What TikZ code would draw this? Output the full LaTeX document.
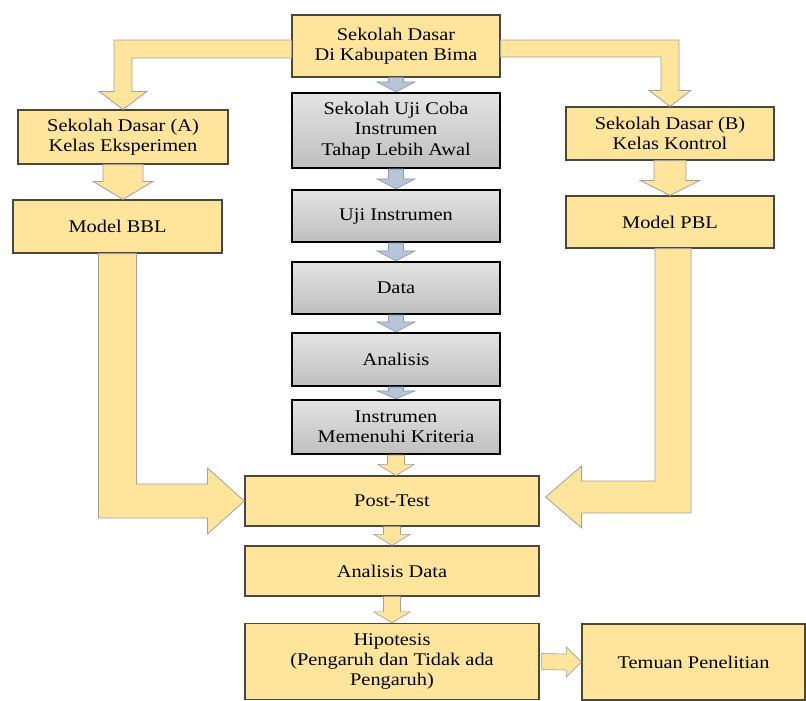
\documentclass[tikz,border=0pt]{standalone}
\usepackage{fontspec}
\setmainfont{Liberation Serif}[FakeStretch=1.14]
\usetikzlibrary{calc}
\definecolor{boxyellow}{HTML}{FFE59C}
\definecolor{boxedge}{HTML}{4A4838}
\definecolor{arrowedge}{HTML}{A0A0A0}
\definecolor{smallblue}{HTML}{B8C4D8}
\definecolor{smalledge}{HTML}{8A9AB4}
\newcommand{\blockdown}[6]{
  % block arrow pointing down from node #2 to node #3
  % parameter 1: style
  % parameter 4: half width of shaft, 5: half width of head, 6: head length
  \filldraw[#1] ($(#2.south)+(-#4,0)$) -- ($(#2.south |- #3.north)+(-#4,-#6)$)
    -- ++({#4-#5},0) -- (#2.south |- #3.north) -- ++(#5,-#6) -- ++({#4-#5},0)
    -- ($(#2.south)+(#4,0)$) -- cycle;
}

\begin{document}
\begin{tikzpicture}[x=0.75pt,y=-0.75pt,
  every node/.style={font=\fontsize{13.4}{15.2}\selectfont,align=center,inner sep=2pt},
  ybox/.style={draw=boxedge,line width=0.9pt,fill=boxyellow},
  gbox/.style={draw=black,line width=1.6pt,top color=gray!22,bottom color=gray!50},
  bigarrow/.style={fill=boxyellow,draw=arrowedge,line width=0.6pt},
  smallarrow/.style={fill=smallblue,draw=smalledge,line width=0.5pt},
  yarrow/.style={fill=boxyellow,draw=arrowedge,line width=0.5pt}]
  \useasboundingbox (0,0) rectangle (806,700);

  % middle column
  \node[ybox,minimum width=156pt,minimum height=46.5pt] (top) at (396,46) {Sekolah Dasar\\Di Kabupaten Bima};
  \node[gbox,minimum width=156pt,minimum height=56.25pt] (ujicoba) at (396,130.5) {Sekolah Uji Coba\\Instrumen\\Tahap Lebih Awal};
  \node[gbox,minimum width=156pt,minimum height=39pt] (uji) at (396,216) {Uji Instrumen};
  \node[gbox,minimum width=156pt,minimum height=39pt] (data) at (396,288) {Data};
  \node[gbox,minimum width=156pt,minimum height=39.75pt] (analisis) at (396,359.5) {Analisis};
  \node[gbox,minimum width=156pt,minimum height=40.5pt] (kriteria) at (396,427) {Instrumen\\Memenuhi Kriteria};
  \node[ybox,minimum width=220.5pt,minimum height=37.5pt] (post) at (392,501) {Post-Test};
  \node[ybox,minimum width=220.5pt,minimum height=37.5pt] (andata) at (392,571) {Analisis Data};
  \node[ybox,minimum width=220.5pt,minimum height=57pt] (hipo) at (392,661.5) {Hipotesis\\(Pengaruh dan Tidak ada\\Pengaruh)};
  \node[ybox,minimum width=167.25pt,minimum height=57pt] (temuan) at (693.5,662) {Temuan Penelitian};

  % left and right columns
  \node[ybox,minimum width=157.5pt,minimum height=40.5pt] (sdA) at (123,137) {Sekolah Dasar (A)\\Kelas Eksperimen};
  \node[ybox,minimum width=156.75pt,minimum height=39.75pt] (bbl) at (117.5,226.5) {Model BBL};
  \node[ybox,minimum width=156pt,minimum height=39.75pt] (sdB) at (670,133.5) {Sekolah Dasar (B)\\Kelas Kontrol};
  \node[ybox,minimum width=156pt,minimum height=39pt] (pbl) at (670,222) {Model PBL};

  % bent arrows from the top box
  \filldraw[bigarrow] ($(top.west)+(0,-6)$) -| ($(sdA.north)+(-9,-18)$) -- ++(-15,0)
    -- (sdA.north) -- ++(24,-18) -- ++(-15,0) |- ($(top.west)+(0,12)$) -- cycle;
  \filldraw[bigarrow] ($(top.east)+(0,-6)$) -| ($(sdB.north)+(9,-16)$) -- ++(12,0)
    -- (sdB.north) -- ++(-21,-16) -- ++(12,0) |- ($(top.east)+(0,11)$) -- cycle;

  \blockdown{bigarrow}{sdA}{bbl}{20}{30}{18}
  \blockdown{bigarrow}{sdB}{pbl}{16}{30}{15}

  % models into post-test
  \filldraw[bigarrow] ($(bbl.south)+(-19,0)$) |- ($(post.west)+(-37,17)$) -- ++(0,16)
    -- (post.west) -- ++(-37,-33) -- ++(0,16) -| ($(bbl.south)+(19,0)$) -- cycle;
  \filldraw[bigarrow] ($(pbl.south)+(21,0)$) |- ($(post.east)+(42,12)$) -- ++(0,15)
    -- ($(post.east)+(6,-4)$) -- ++(36,-31) -- ++(0,15) -| ($(pbl.south)+(-15,0)$) -- cycle;

  % small arrows
  \blockdown{smallarrow}{top}{ujicoba}{7.5}{19}{10}
  \blockdown{smallarrow}{ujicoba}{uji}{7.5}{19}{10}
  \blockdown{smallarrow}{uji}{data}{7.5}{19}{10}
  \blockdown{smallarrow}{data}{analisis}{7.5}{19}{10}
  \blockdown{smallarrow}{analisis}{kriteria}{7.5}{19}{8}
  \blockdown{yarrow}{kriteria}{post}{8.5}{18}{11}
  \blockdown{yarrow}{post}{andata}{8.5}{18}{11}
  \blockdown{yarrow}{andata}{hipo}{8.5}{18}{11}

  \filldraw[yarrow] ($(hipo.east)+(2,-8)$) -- ($(temuan.west)+(-15,-8)$) -- ++(0,-7)
    -- (temuan.west) -- ++(-15,15) -- ++(0,-7) -- ($(hipo.east)+(2,8)$) -- cycle;
\end{tikzpicture}
\end{document}
